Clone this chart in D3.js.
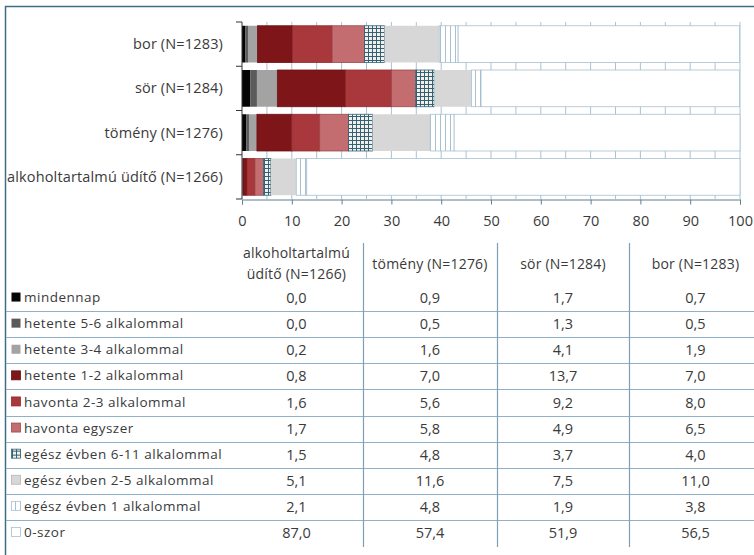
<!DOCTYPE html>
<html>
<head>
<meta charset="utf-8">
<script src="https://cdn.jsdelivr.net/npm/d3@7"></script>
<style>
  html, body { margin: 0; padding: 0; background: #fff; }
  svg { display: block; font-family: "Open Sans", "Liberation Sans", sans-serif; }
</style>
</head>
<body>
<svg id="chart" width="754" height="555"></svg>
<script>
// Drink types, in data-table column order (first one is drawn at the bottom of the bars)
const categories = ["alkoholtartalmú üdítő (N=1266)", "tömény (N=1276)", "sör (N=1284)", "bor (N=1283)"];
const headerLines = [["alkoholtartalmú", "üdítő (N=1266)"], ["tömény (N=1276)"], ["sör (N=1284)"], ["bor (N=1283)"]];

// Frequency answers, percentages per drink type
const seriesNames = [
  "mindennap", "hetente 5-6 alkalommal", "hetente 3-4 alkalommal", "hetente 1-2 alkalommal",
  "havonta 2-3 alkalommal", "havonta egyszer", "egész évben 6-11 alkalommal",
  "egész évben 2-5 alkalommal", "egész évben 1 alkalommal", "0-szor"
];
const mindennap      = [0.0, 0.9, 1.7, 0.7];
const hetente56      = [0.0, 0.5, 1.3, 0.5];
const hetente34      = [0.2, 1.6, 4.1, 1.9];
const hetente12      = [0.8, 7.0, 13.7, 7.0];
const havonta23      = [1.6, 5.6, 9.2, 8.0];
const havontaEgyszer = [1.7, 5.8, 4.9, 6.5];
const evben611       = [1.5, 4.8, 3.7, 4.0];
const evben25        = [5.1, 11.6, 7.5, 11.0];
const evben1         = [2.1, 4.8, 1.9, 3.8];
const nullaSzor      = [87.0, 57.4, 51.9, 56.5];
const seriesValues = [mindennap, hetente56, hetente34, hetente12, havonta23,
                      havontaEgyszer, evben611, evben25, evben1, nullaSzor];
const xTicks = [0, 10, 20, 30, 40, 50, 60, 70, 80, 90, 100];

const fills = ["#050505", "#5a5a5a", "#a3a3a3", "#7e1518", "#a8383b", "#c46d70",
               "url(#pGrid)", "#d7d7d7", "url(#pStripe)", "#ffffff"];
const strokes = [null, null, null, "#6a1013", "#8f2a2d", "#9a4a4d",
                 "#2f6377", null, "#a8c0d0", "#a8c0d0"];
const textColor = "#3a3a3a";

const svg = d3.select("#chart");
const defs = svg.append("defs");

// cross-hatch for 6-11 times a year
const pg = defs.append("pattern").attr("id", "pGrid").attr("patternUnits", "userSpaceOnUse")
  .attr("width", 4).attr("height", 4);
pg.append("rect").attr("width", 4).attr("height", 4).attr("fill", "#f6efe9");
pg.append("path").attr("d", "M0,0.5H4M0.5,0V4").attr("stroke", "#2f6377").attr("stroke-width", 1);

// thin vertical stripes for once a year
const ps = defs.append("pattern").attr("id", "pStripe").attr("patternUnits", "userSpaceOnUse")
  .attr("width", 5).attr("height", 5);
ps.append("rect").attr("width", 5).attr("height", 5).attr("fill", "#ffffff");
ps.append("path").attr("d", "M0.5,0V5").attr("stroke", "#a8c0d0").attr("stroke-width", 1);

// outer frame
svg.append("path").attr("d", "M5.5,555V6.5H754").attr("fill", "none")
  .attr("stroke", "#3d6f88").attr("stroke-width", 1.5);

// ---- bar chart ----
const x = d3.scaleLinear().domain([0, 100]).range([242, 740]);
const y = d3.scaleBand().domain(categories.slice().reverse()).range([22, 199])
  .paddingInner(0.17).paddingOuter(0.085);

// gridlines every 5 units
const gridVals = d3.range(5, 101, 5);
svg.append("g").selectAll("line").data(gridVals).join("line")
  .attr("x1", d => x(d)).attr("x2", d => x(d))
  .attr("y1", 22).attr("y2", 199)
  .attr("stroke", "#a9c3d6").attr("stroke-width", 1);

// stacked segments
const stackRows = categories.map((c, ci) => {
  let acc = 0;
  return seriesValues.map((vals, si) => {
    const s = { cat: c, si, x0: acc, x1: acc + vals[ci] };
    acc += vals[ci];
    return s;
  });
}).flat();

svg.append("g").selectAll("rect").data(stackRows.filter(d => d.x1 > d.x0)).join("rect")
  .attr("x", d => x(d.x0))
  .attr("y", d => y(d.cat))
  .attr("width", d => x(d.x1) - x(d.x0))
  .attr("height", y.bandwidth())
  .attr("fill", d => fills[d.si])
  .attr("stroke", d => strokes[d.si] || "none")
  .attr("stroke-width", 0.8);

// x axis
const xAxis = d3.axisBottom(x).tickValues(xTicks).tickSize(5).tickPadding(11);
const gx = svg.append("g").attr("transform", "translate(0,199.5)").call(xAxis);
gx.select(".domain").attr("stroke", "#5f7f93");
gx.selectAll(".tick line").attr("stroke", "#5f7f93");
gx.selectAll("text").attr("font-size", 14.5).attr("fill", textColor)
  .attr("font-family", "'Open Sans', sans-serif");

// y axis with ticks on category boundaries
svg.append("line").attr("x1", 242).attr("x2", 242).attr("y1", 22).attr("y2", 199)
  .attr("stroke", "#333").attr("stroke-width", 1);
const bounds = d3.range(categories.length + 1).map(i => y.range()[0] + i * y.step());
svg.append("g").selectAll("line").data(bounds).join("line")
  .attr("x1", 236).attr("x2", 242).attr("y1", d => d).attr("y2", d => d)
  .attr("stroke", "#333");
svg.append("g").selectAll("text").data(categories).join("text")
  .attr("x", 223).attr("y", d => y(d) + y.bandwidth() / 2)
  .attr("dy", "0.35em").attr("text-anchor", "end")
  .attr("font-size", 14.5).attr("letter-spacing", 0.15)
  .attr("fill", textColor).text(d => d);

// ---- data table ----
const colEdges = [230, 363, 497, 629, 762];
const headerTop = 243, firstRowTop = 285, rowH = 26.1;
const rowTop = i => firstRowTop + i * rowH;
const tableBottom = rowTop(seriesNames.length) + 1;
const fmt = v => d3.format(".1f")(v).replace(".", ",");

// horizontal row separators
svg.append("g").selectAll("line").data(d3.range(1, seriesNames.length)).join("line")
  .attr("x1", 6).attr("x2", 754)
  .attr("y1", i => Math.round(rowTop(i)) + 0.5).attr("y2", i => Math.round(rowTop(i)) + 0.5)
  .attr("stroke", "#8fb0c6").attr("stroke-width", 1.2);

// vertical column separators
svg.append("g").selectAll("line").data(colEdges.slice(1, 4)).join("line")
  .attr("x1", d => d + 0.5).attr("x2", d => d + 0.5)
  .attr("y1", headerTop).attr("y2", tableBottom)
  .attr("stroke", "#7f9fb5").attr("stroke-width", 1.2);

// column headers
headerLines.forEach((lines, ci) => {
  const cx = (colEdges[ci] + colEdges[ci + 1]) / 2;
  const t = svg.append("text").attr("x", cx).attr("text-anchor", "middle")
    .attr("font-size", 14).attr("letter-spacing", 0.2).attr("fill", textColor);
  const top = lines.length === 1 ? 264 : 253.5;
  lines.forEach((ln, li) => {
    t.append("tspan").attr("x", cx).attr("y", top + li * 20.5).attr("dy", "0.35em").text(ln);
  });
});

// row labels with legend keys
const rows = svg.append("g").selectAll("g").data(seriesNames).join("g")
  .attr("transform", (d, i) => `translate(0,${rowTop(i) + rowH / 2})`);
rows.append("rect").attr("x", 11.5).attr("y", -5.5).attr("width", 9).attr("height", 9)
  .attr("fill", (d, i) => fills[i])
  .attr("stroke", (d, i) => strokes[i] || (i >= 7 ? "#b5b5b5" : "none"))
  .attr("stroke-width", 0.8);
rows.append("text").attr("x", 24).attr("dy", "0.3em")
  .attr("font-size", 13.5).attr("letter-spacing", 0.5)
  .attr("fill", textColor).text(d => d);

// values
rows.each(function (name, si) {
  d3.select(this).selectAll("text.val").data(seriesValues[si]).join("text")
    .attr("class", "val")
    .attr("x", (v, ci) => (colEdges[ci] + colEdges[ci + 1]) / 2)
    .attr("dy", "0.35em").attr("text-anchor", "middle")
    .attr("font-size", 14.5).attr("fill", textColor).text(v => fmt(v));
});
</script>
</body>
</html>
